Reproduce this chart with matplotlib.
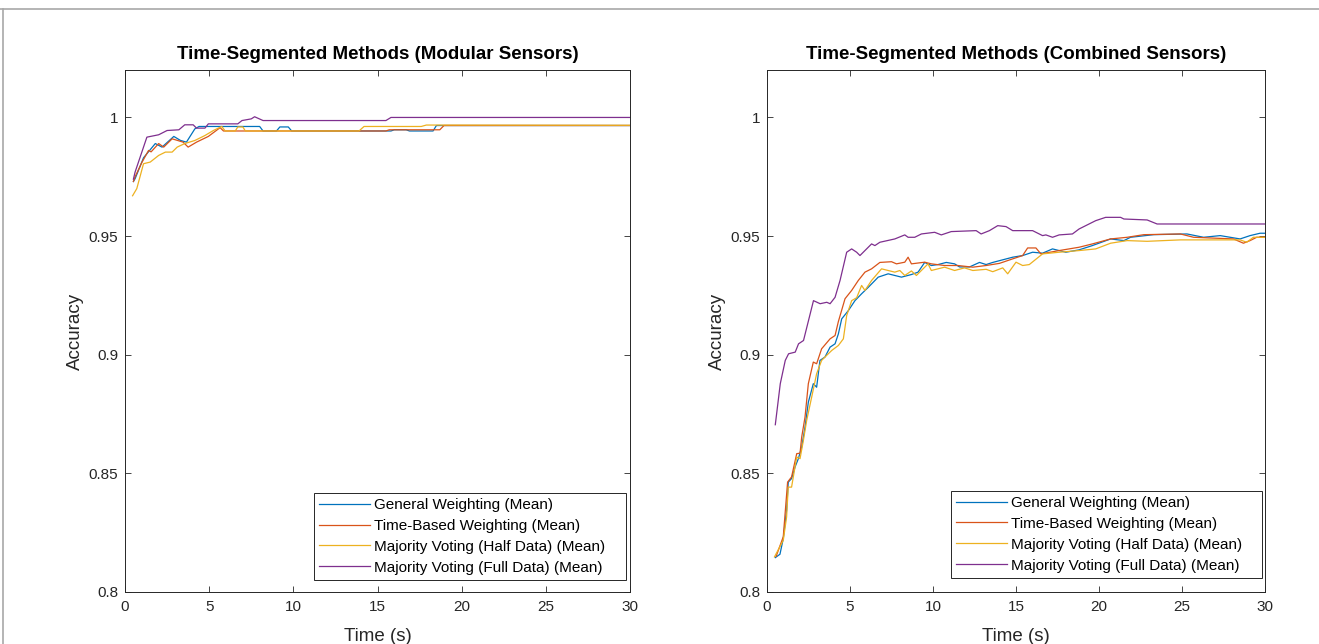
"""
Time-segmented methods: mean accuracy over time, modular vs combined sensors.
"""
import matplotlib
matplotlib.use("Agg")
import matplotlib.pyplot as plt
from matplotlib.lines import Line2D
from matplotlib.ticker import FuncFormatter

plt.rcParams["font.family"] = ["Liberation Sans", "DejaVu Sans"]

TITLES = ["Time-Segmented Methods (Modular Sensors)",
          "Time-Segmented Methods (Combined Sensors)"]
LABELS = ["General Weighting (Mean)",
          "Time-Based Weighting (Mean)",
          "Majority Voting (Half Data) (Mean)",
          "Majority Voting (Full Data) (Mean)"]
COLORS = ["#0072BD", "#D95319", "#EDB120", "#7E2F8E"]

# ---- modular sensors (left panel): (time s, accuracy)
mod_general = [(0.5, 0.973), (0.6, 0.9742), (1.1, 0.983), (1.8, 0.989), (2.2, 0.9875),
               (2.9, 0.992), (3.3, 0.9903), (3.65, 0.9896), (4.15, 0.9952), (4.4, 0.9962),
               (8.0, 0.9962), (8.2, 0.9943), (9.0, 0.9943), (9.2, 0.996), (9.7, 0.996),
               (9.9, 0.9943), (15.8, 0.9943), (16.0, 0.9948), (16.7, 0.9948), (16.9, 0.9943),
               (18.3, 0.9943), (18.5, 0.9966), (30.0, 0.9966)]
mod_timebased = [(0.5, 0.973), (0.6, 0.975), (1.0, 0.981), (1.4, 0.9861), (1.55, 0.9855),
                 (2.0, 0.989), (2.3, 0.9875), (2.8, 0.991), (3.45, 0.9896), (3.75, 0.9875),
                 (4.25, 0.9896), (4.95, 0.992), (5.65, 0.9957), (5.85, 0.9943), (15.5, 0.9943),
                 (15.7, 0.9948), (18.7, 0.9948), (18.95, 0.9966), (30.0, 0.9966)]
mod_vote_half = [(0.45, 0.967), (0.7, 0.970), (1.1, 0.9805), (1.5, 0.9812), (2.0, 0.984),
                 (2.4, 0.9854), (2.8, 0.9854), (3.1, 0.9875), (3.55, 0.989), (4.15, 0.9903),
                 (4.75, 0.9924), (5.25, 0.9945), (5.75, 0.9962), (5.95, 0.9943), (6.55, 0.9943),
                 (6.7, 0.996), (7.0, 0.996), (7.15, 0.9943), (13.9, 0.9943), (14.2, 0.9962),
                 (17.6, 0.9962), (17.9, 0.9968), (30.0, 0.9967)]
mod_vote_full = [(0.5, 0.974), (0.6, 0.977), (1.3, 0.9917), (2.0, 0.9927), (2.5, 0.9945),
                 (3.2, 0.9948), (3.55, 0.9969), (4.05, 0.9969), (4.25, 0.9955), (4.75, 0.9955),
                 (4.95, 0.9973), (6.7, 0.9973), (6.95, 0.9987), (7.5, 0.9994), (7.7, 1.0003),
                 (8.2, 0.9987), (15.5, 0.9987), (15.8, 1.0), (30.0, 1.0)]

# ---- combined sensors (right panel)
comb_general = [(0.5, 0.8145), (0.78, 0.8159), (0.98, 0.8225), (1.18, 0.8344), (1.28, 0.8463),
                (1.48, 0.8478), (1.69, 0.8527), (1.89, 0.8562), (2.09, 0.8611), (2.29, 0.8695),
                (2.49, 0.88), (2.79, 0.8878), (2.99, 0.8863), (3.19, 0.8976), (3.49, 0.899),
                (3.8, 0.9032), (4.1, 0.9046), (4.3, 0.9088), (4.5, 0.9151), (4.9, 0.9186),
                (5.3, 0.9228), (5.7, 0.9257), (6.1, 0.9284), (6.7, 0.9327), (7.3, 0.9341),
                (8.1, 0.9327), (8.7, 0.9338), (9.1, 0.9348), (9.5, 0.9389), (9.9, 0.9376),
                (10.3, 0.938), (10.8, 0.9389), (11.3, 0.9383), (11.6, 0.937), (12.2, 0.937),
                (12.8, 0.9389), (13.2, 0.938), (13.6, 0.9389), (14.2, 0.94), (14.8, 0.9411),
                (15.4, 0.9418), (16.0, 0.9432), (16.6, 0.9428), (17.2, 0.9446), (18.0, 0.9432),
                (18.8, 0.9442), (19.6, 0.946), (20.7, 0.9488), (21.5, 0.9481), (21.9, 0.9495),
                (23.3, 0.9506), (25.3, 0.9509), (26.3, 0.9495), (27.3, 0.9502), (28.5, 0.9488),
                (29.1, 0.9502), (29.7, 0.9512), (30.0, 0.9512)]
comb_timebased = [(0.55, 0.815), (0.98, 0.8233), (1.24, 0.8463), (1.48, 0.8485), (1.79, 0.8583),
                  (1.99, 0.8585), (2.09, 0.8653), (2.29, 0.8737), (2.49, 0.8878), (2.79, 0.8969),
                  (2.99, 0.8962), (3.29, 0.9025), (3.8, 0.9067), (4.1, 0.9081), (4.3, 0.914),
                  (4.7, 0.9236), (5.1, 0.9271), (5.5, 0.9313), (5.9, 0.9348), (6.3, 0.9362),
                  (6.8, 0.9389), (7.5, 0.9392), (7.8, 0.9383), (8.3, 0.939), (8.5, 0.9411),
                  (8.7, 0.9383), (9.5, 0.939), (9.9, 0.9383), (10.7, 0.9376), (11.5, 0.9376),
                  (12.4, 0.9369), (13.2, 0.9376), (14.0, 0.9385), (14.8, 0.9404), (15.4, 0.9418),
                  (15.7, 0.945), (16.2, 0.945), (16.5, 0.9425), (17.6, 0.9439), (18.8, 0.9453),
                  (19.6, 0.9467), (20.7, 0.9488), (21.7, 0.9495), (22.7, 0.9506), (24.9, 0.9509),
                  (25.7, 0.9495), (28.1, 0.9488), (28.7, 0.947), (29.1, 0.9481), (29.5, 0.9495),
                  (30.0, 0.9495)]
comb_vote_half = [(0.45, 0.8148), (0.98, 0.8218), (1.18, 0.8316), (1.28, 0.8442), (1.48, 0.8442),
                  (1.79, 0.8569), (1.99, 0.8562), (2.19, 0.8638), (2.39, 0.8723), (2.69, 0.8821),
                  (2.99, 0.892), (3.29, 0.8976), (3.59, 0.8997), (3.9, 0.9018), (4.3, 0.9039),
                  (4.6, 0.9067), (4.8, 0.9165), (5.1, 0.9228), (5.4, 0.924), (5.7, 0.9292),
                  (5.9, 0.9271), (6.3, 0.9313), (6.9, 0.9362), (7.3, 0.9355), (7.7, 0.9348),
                  (8.0, 0.9355), (8.3, 0.9334), (8.7, 0.9353), (9.0, 0.9334), (9.7, 0.9383),
                  (9.9, 0.9355), (10.7, 0.9369), (11.3, 0.9355), (11.9, 0.9366), (12.4, 0.9355),
                  (13.2, 0.936), (13.6, 0.935), (14.2, 0.9366), (14.5, 0.9341), (15.0, 0.939),
                  (15.4, 0.9376), (15.8, 0.938), (16.6, 0.9425), (17.6, 0.9432), (18.8, 0.9439),
                  (19.8, 0.9446), (20.7, 0.947), (21.7, 0.9481), (22.9, 0.9478), (24.9, 0.9484),
                  (28.5, 0.9484), (28.9, 0.9474), (29.3, 0.9495), (30.0, 0.9495)]
comb_vote_full = [(0.5, 0.8705), (0.8, 0.8878), (1.1, 0.8976), (1.3, 0.9004), (1.7, 0.9011),
                  (1.9, 0.9046), (2.2, 0.906), (2.5, 0.9144), (2.8, 0.9228), (3.2, 0.9215),
                  (3.6, 0.9221), (3.8, 0.9215), (4.1, 0.9242), (4.4, 0.9313), (4.8, 0.9432),
                  (5.1, 0.9446), (5.4, 0.9432), (5.6, 0.9418), (5.9, 0.9439), (6.3, 0.9467),
                  (6.5, 0.946), (6.8, 0.9474), (7.7, 0.9488), (8.3, 0.9505), (8.5, 0.9495),
                  (8.9, 0.9495), (9.3, 0.9509), (10.1, 0.9516), (10.5, 0.9505), (11.1, 0.9519),
                  (12.6, 0.9523), (12.9, 0.9509), (13.4, 0.9523), (13.9, 0.9544), (14.4, 0.954),
                  (14.8, 0.9523), (16.0, 0.9523), (16.6, 0.9502), (16.8, 0.9505), (17.2, 0.9495),
                  (17.6, 0.9505), (18.4, 0.9509), (18.8, 0.953), (19.6, 0.9558), (19.8, 0.9565),
                  (20.4, 0.9579), (21.3, 0.9579), (21.5, 0.9572), (22.9, 0.9568), (23.5, 0.9551),
                  (30.0, 0.9551)]

PANELS = [
    [mod_general, mod_timebased, mod_vote_half, mod_vote_full],
    [comb_general, comb_timebased, comb_vote_half, comb_vote_full],
]

DARK = "#262626"

fig = plt.figure(figsize=(13.19, 6.44), dpi=100)

# screenshot frame lines
fig.add_artist(Line2D([0, 1], [1 - 8.5 / 644] * 2, color="#a8a8a8", lw=1.2))
fig.add_artist(Line2D([3 / 1319] * 2, [0, 1 - 8.5 / 644], color="#a8a8a8", lw=1.2))

positions = [
    [125 / 1319, 1 - 592 / 644, 505 / 1319, 522 / 644],
    [767 / 1319, 1 - 592 / 644, 498 / 1319, 522 / 644],
]
# legend box (x0, y0, width) in axes fractions, MATLAB-style wide box
legend_boxes = [(0.374, 0.023, 0.618), (0.3695, 0.027, 0.6245)]

for pos, title, series, lbox in zip(positions, TITLES, PANELS, legend_boxes):
    ax = fig.add_axes(pos)
    for pts, lab, col in zip(series, LABELS, COLORS):
        t = [p[0] for p in pts]
        v = [p[1] for p in pts]
        ax.plot(t, v, color=col, lw=0.9, label=lab)

    ax.set_xlim(0, 30)
    ax.set_ylim(0.8, 1.02)
    ax.set_xticks([0, 5, 10, 15, 20, 25, 30])
    ax.set_yticks([0.8, 0.85, 0.9, 0.95, 1.0])
    ax.yaxis.set_major_formatter(FuncFormatter(lambda y, _: f"{y:g}"))
    ax.tick_params(direction="in", top=True, right=True, length=4, width=0.6,
                   colors=DARK, labelsize=11)
    ax.tick_params(axis="x", pad=6)
    ax.tick_params(axis="y", pad=5)
    for sp in ax.spines.values():
        sp.set_color(DARK)
        sp.set_linewidth(0.7)

    ax.set_title(title, fontsize=13.5, fontweight="bold", color="black", pad=8)
    ax.set_xlabel("Time (s)", fontsize=13.5, color=DARK, labelpad=10)
    ax.set_ylabel("Accuracy", fontsize=13.5, color=DARK, labelpad=3)

    leg = ax.legend(loc="lower left", bbox_to_anchor=(lbox[0], lbox[1], lbox[2], 0.1),
                    mode="expand", borderaxespad=0, fontsize=11, frameon=True,
                    fancybox=False, framealpha=1, edgecolor=DARK, handlelength=3.3,
                    handletextpad=0.3, labelspacing=0.45, borderpad=0.35)
    leg.get_frame().set_linewidth(0.7)

fig.savefig("out.png", dpi=100)
